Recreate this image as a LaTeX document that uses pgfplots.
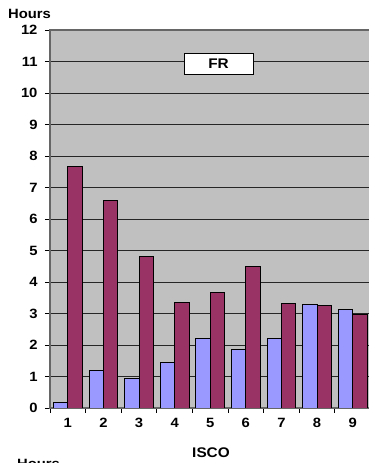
\documentclass[border=0pt]{standalone}
\usepackage{fontspec}
\setmainfont{Liberation Sans}[FakeStretch=1.1]
\usepackage{pgfplots}
\pgfplotsset{compat=1.18}
\definecolor{plotbg}{HTML}{C0C0C0}
\definecolor{seriesA}{HTML}{9999FF}
\definecolor{seriesB}{HTML}{993366}
\begin{document}
\begin{tikzpicture}
\useasboundingbox (0,0) rectangle (369bp,463bp);
\begin{axis}[
  at={(50bp,55bp)}, anchor=south west,
  scale only axis, width=320.5bp, height=378bp,
  xmin=0.5, xmax=9.5, ymin=0, ymax=12,
  axis background/.style={fill=plotbg},
  axis line style={black!60, line width=1.2bp},
  % category boundaries carry the tick marks, category centres the labels
  xtick={0.5,1.5,...,9.5}, xticklabels={},
  extra x ticks={1,2,...,9},
  extra x tick labels={1,2,3,4,5,6,7,8,9},
  extra x tick style={major tick length=0pt, grid=none},
  ytick={0,1,...,12},
  tick style={black, line width=0.8bp},
  tick align=outside, tick pos=left,
  major tick length=5bp,
  ymajorgrids, grid style={black!85, line width=0.9bp},
  /pgf/number format/assume math mode=true,
  tick label style={font=\bfseries\fontsize{13.5}{13.5}\selectfont},
  xticklabel style={yshift=-7bp},
  yticklabel style={xshift=-4bp},
  ybar, bar width=14.4bp,
]
\addplot[fill=seriesA, draw=black, line width=0.8bp, bar shift=-7.2bp]
  coordinates {(1,0.18) (2,1.18) (3,0.94) (4,1.44) (5,2.21) (6,1.86) (7,2.21) (8,3.28) (9,3.14)};
\addplot[fill=seriesB, draw=black, line width=0.8bp, bar shift=7.2bp]
  coordinates {(1,7.67) (2,6.60) (3,4.80) (4,3.34) (5,3.66) (6,4.50) (7,3.32) (8,3.26) (9,2.98)};
\node[draw=black, line width=0.8bp, fill=white, minimum width=69bp, minimum height=21bp,
  inner sep=0pt, font=\bfseries\fontsize{14}{14}\selectfont]
  at (rel axis cs:0.526,0.911) {FR};
\end{axis}
\node[anchor=west, inner sep=0pt, font=\bfseries\fontsize{13.5}{13.5}\selectfont]
  at (8bp,448.7bp) {Hours};
\node[inner sep=0pt, font=\bfseries\fontsize{14}{14}\selectfont]
  at (211bp,10bp) {ISCO};
\node[anchor=north west, inner sep=0pt, font=\bfseries\fontsize{13.5}{13.5}\selectfont]
  at (17bp,3.5bp) {Hours};
\end{tikzpicture}
\end{document}
